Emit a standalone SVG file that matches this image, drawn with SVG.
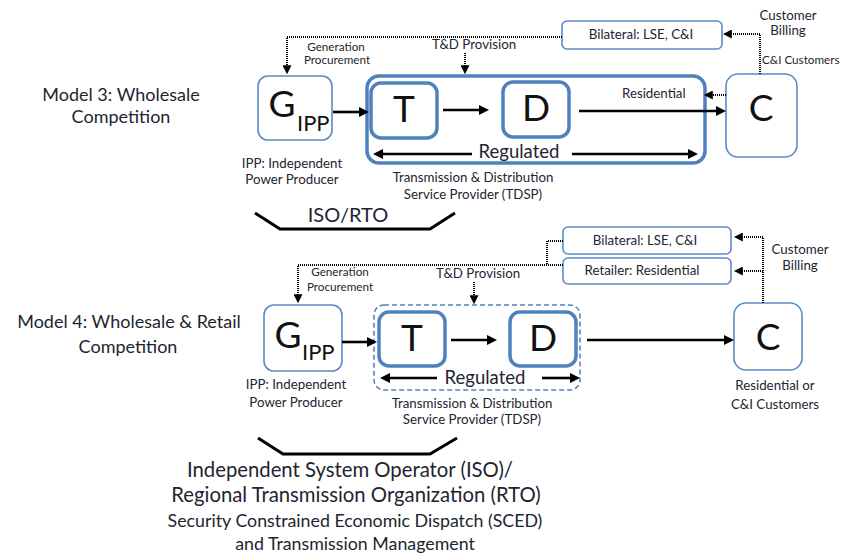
<svg xmlns="http://www.w3.org/2000/svg" width="854" height="556" viewBox="0 0 854 556">
<defs>
<style>
text{font-family:Lato,"Liberation Sans",sans-serif;fill:#1e2530}
.lbl{font-size:13.3px}
.sm{font-size:11.7px}
.mid{text-anchor:middle}
.big{font-size:37px;text-anchor:middle;fill:#111}
.sub{font-size:22px;fill:#111}
.reg{font-size:18.5px;text-anchor:middle}
.mdl{font-size:18px;text-anchor:middle}
.thin{fill:#fff;stroke:#5b8ac6;stroke-width:1.6}
.thick{fill:#fff;stroke:#4f81bd;stroke-width:3.5}
.arr{stroke:#000;stroke-width:2.6;fill:none;marker-end:url(#ah)}
.dot{stroke:#000;stroke-width:2;fill:none;stroke-dasharray:1 1}
.brk{stroke:#000;stroke-width:3;fill:none}
</style>
<marker id="ah" viewBox="0 0 10 10" refX="2" refY="5" markerWidth="10" markerHeight="10" markerUnits="userSpaceOnUse" orient="auto-start-reverse"><path d="M0,0 L10,5 L0,10 z" fill="#000"/></marker>
<marker id="dh" viewBox="0 0 10 10" refX="2" refY="5" markerWidth="9" markerHeight="9" markerUnits="userSpaceOnUse" orient="auto"><path d="M0,0 L10,5 L0,10 z" fill="#000"/></marker>
</defs>

<!-- Model 3 -->
<g id="model3-title"><text class="mdl" x="121" y="101">Model 3: Wholesale</text><text class="mdl" x="121" y="123">Competition</text></g>
<g id="m3-tdsp"><rect class="thick" x="367" y="76" width="338" height="87" rx="12"/></g>
<g id="m3-G"><rect class="thin" x="258" y="76" width="74" height="64" rx="10"/><text class="big" x="282" y="117">G</text><text class="sub" x="297" y="131">IPP</text></g>
<g id="m3-T"><rect class="thick" x="371" y="83" width="66" height="55" rx="10"/><text class="big" x="404" y="122">T</text></g>
<g id="m3-D"><rect class="thick" x="503" y="82" width="66" height="55" rx="10"/><text class="big" x="536" y="121">D</text></g>
<g id="m3-C"><rect class="thin" x="726" y="74" width="71" height="83" rx="12"/><text class="big" x="761" y="121">C</text></g>
<g id="m3-bilateral"><rect class="thin" x="562" y="21" width="160" height="28" rx="5"/><text class="lbl mid" x="641" y="39">Bilateral: LSE, C&amp;I</text></g>
<g id="m3-labels">
<text class="lbl mid" x="788" y="20">Customer</text><text class="lbl mid" x="788" y="35">Billing</text>
<text class="sm" x="762" y="64">C&amp;I Customers</text>
<text class="sm mid" x="336" y="51">Generation</text><text class="sm mid" x="337" y="64">Procurement</text>
<text class="lbl mid" x="474" y="49">T&amp;D Provision</text>
<text class="lbl" x="622" y="98">Residential</text>
<text class="reg" x="519" y="158">Regulated</text>
<text class="lbl mid" x="292" y="168">IPP: Independent</text><text class="lbl mid" x="292" y="184">Power Producer</text>
<text class="lbl mid" x="473" y="182">Transmission &amp; Distribution</text><text class="lbl mid" x="473" y="199">Service Provider (TDSP)</text>
<text class="mid" style="font-size:20px" x="348" y="222">ISO/RTO</text>
</g>
<g id="m3-iso"><path class="brk" d="M255,213 L280,229 L430,229 L455,213"/></g>

<!-- Model 4 -->
<g id="model4-title"><text class="mdl" x="129" y="328">Model 4: Wholesale &amp; Retail</text><text class="mdl" x="128" y="353">Competition</text></g>
<g id="m4-tdsp"><rect x="374" y="305" width="206" height="85" rx="10" fill="none" stroke="#4f81bd" stroke-width="1.5" stroke-dasharray="5 3"/></g>
<g id="m4-G"><rect class="thin" x="264" y="305" width="78" height="66" rx="10"/><text class="big" x="288" y="348">G</text><text class="sub" x="302" y="360">IPP</text></g>
<g id="m4-T"><rect class="thick" x="379" y="312" width="66" height="54" rx="10"/><text class="big" x="412" y="351">T</text></g>
<g id="m4-D"><rect class="thick" x="510" y="312" width="66" height="54" rx="10"/><text class="big" x="543" y="351">D</text></g>
<g id="m4-C"><rect class="thin" x="734" y="303" width="68" height="67" rx="12"/><text class="big" x="768" y="350">C</text></g>
<g id="m4-bilateral"><rect class="thin" x="563" y="227" width="168" height="27" rx="5"/><text class="lbl mid" x="645" y="245">Bilateral: LSE, C&amp;I</text></g>
<g id="m4-retailer"><rect class="thin" x="563" y="258" width="168" height="26" rx="5"/><text class="lbl mid" x="642" y="275">Retailer: Residential</text></g>
<g id="m4-labels">
<text class="lbl mid" x="800" y="254">Customer</text><text class="lbl mid" x="800" y="270">Billing</text>
<text class="sm mid" x="340" y="276">Generation</text><text class="sm mid" x="340" y="291">Procurement</text>
<text class="lbl mid" x="478" y="278">T&amp;D Provision</text>
<text class="reg" x="485" y="384">Regulated</text>
<text class="lbl mid" x="296" y="389">IPP: Independent</text><text class="lbl mid" x="296" y="407">Power Producer</text>
<text class="lbl mid" x="472" y="408">Transmission &amp; Distribution</text><text class="lbl mid" x="472" y="424">Service Provider (TDSP)</text>
<text class="lbl mid" x="775" y="390">Residential or</text><text class="lbl mid" x="775" y="409">C&amp;I Customers</text>
</g>
<g id="m4-iso"><path class="brk" d="M258,438 L283,454 L430,454 L457,438"/>
<text class="mid" style="font-size:20.3px" x="350" y="477">Independent System Operator (ISO)/</text>
<text class="mid" style="font-size:20.3px" x="356" y="502">Regional Transmission Organization (RTO)</text>
<text class="mid" style="font-size:17.8px" x="355" y="527">Security Constrained Economic Dispatch (SCED)</text>
<text class="mid" style="font-size:17.8px" x="355" y="550">and Transmission Management</text>
</g>

<g id="connectors">
<!-- model 3 -->
<path class="arr" d="M333,112 H361"/>
<path class="arr" d="M443,110 H481"/>
<path class="arr" d="M579,111 H718"/>
<path class="arr" d="M472,154 H381" />
<path class="arr" d="M572,154 H690"/>
<path class="dot" marker-end="url(#dh)" d="M726,95 H711"/>
<path class="dot" marker-end="url(#dh)" d="M760,74 V34 H730"/>
<path class="dot" marker-end="url(#dh)" d="M562,37 H287 V67"/>
<path class="dot" marker-end="url(#dh)" d="M465,53 V67"/>
<!-- model 4 -->
<path class="arr" d="M342,342 H369"/>
<path class="arr" d="M451,340 H489"/>
<path class="arr" d="M587,340 H726"/>
<path class="arr" d="M437,378 H388"/>
<path class="arr" d="M542,378 H572"/>
<path class="dot" marker-end="url(#dh)" d="M763,303 V237 H741"/>
<path class="dot" marker-end="url(#dh)" d="M763,271 H741"/>
<path class="dot" d="M563,241 H547 V265"/>
<path class="dot" marker-end="url(#dh)" d="M563,265 H298 V296"/>
<path class="dot" marker-end="url(#dh)" d="M474,282 V297"/>
</g>
</svg>
